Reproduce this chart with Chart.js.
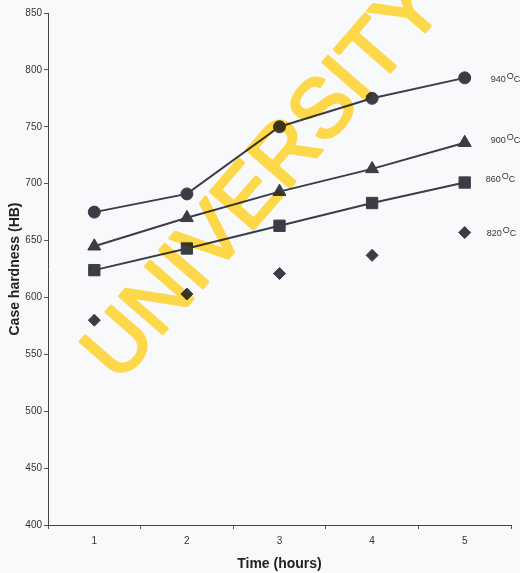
<!DOCTYPE html>
<html>
<head>
<meta charset="utf-8">
<script src="https://cdn.jsdelivr.net/npm/chart.js@4.4.0/dist/chart.umd.min.js"></script>
<style>
  html, body { margin: 0; padding: 0; background: #f8f9fb; }
  #wrap { width: 520px; height: 573px; }
</style>
</head>
<body>
<div id="wrap"><canvas id="c" width="520" height="573"></canvas></div>
<script>
const categories = ['1', '2', '3', '4', '5'];
const seriesNames = ['940', '900', '860', '820'];
const hardness940 = [675, 691, 750, 775, 793];
const hardness900 = [645, 670, 693, 713, 736];
const hardness860 = [624, 643, 663, 683, 701];
const hardness820 = [580, 603, 621, 637, 657];
const yMin = 400, yMax = 850, yStep = 50;
const xTitle = 'Time (hours)';
const yTitle = 'Case hardness (HB)';
const watermark = 'UNIVERSITY';

const ink = '#3b3c46';

const seriesLabelPlugin = {
  id: 'seriesLabels',
  afterDatasetsDraw(chart) {
    const ctx = chart.ctx;
    ctx.save();
    ctx.fillStyle = '#333';
    ctx.textBaseline = 'middle';
    ctx.textAlign = 'left';
    const offsets = [{dx: 26, dy: 2}, {dx: 26, dy: -2}, {dx: 21, dy: -3}, {dx: 22, dy: 1}];
    chart.data.datasets.forEach((ds, i) => {
      const meta = chart.getDatasetMeta(i);
      const pt = meta.data[meta.data.length - 1];
      let x = pt.x + offsets[i].dx, y = pt.y + offsets[i].dy;
      ctx.font = '9px "Liberation Sans", Arial, sans-serif';
      ctx.fillText(seriesNames[i], x, y);
      x += ctx.measureText(seriesNames[i]).width + 1;
      ctx.fillText('O', x, y - 3);
      x += ctx.measureText('O').width;
      ctx.fillText('C', x, y);
    });
    ctx.restore();
  }
};

const watermarkPlugin = {
  id: 'watermark',
  afterDraw(chart) {
    const ctx = chart.ctx;
    const off = document.createElement('canvas');
    off.width = chart.width;
    off.height = chart.height;
    const o = off.getContext('2d');
    o.fillStyle = 'rgb(252,216,74)';
    o.strokeStyle = 'rgb(252,216,74)';
    o.lineWidth = 3;
    o.lineJoin = 'round';
    o.font = '83px "Liberation Sans", Arial, sans-serif';
    o.textAlign = 'left';
    o.textBaseline = 'alphabetic';
    o.translate(119, 384);
    o.rotate(-49 * Math.PI / 180);
    o.fillText(watermark, 0, 0);
    o.strokeText(watermark, 0, 0);
    ctx.save();
    ctx.setTransform(1, 0, 0, 1, 0, 0);
    ctx.globalCompositeOperation = 'multiply';
    ctx.drawImage(off, 0, 0);
    ctx.restore();
  }
};

const common = {
  borderColor: ink,
  backgroundColor: ink,
  pointBackgroundColor: ink,
  pointBorderColor: ink,
  borderWidth: 2,
  pointBorderWidth: 1,
  tension: 0
};

new Chart(document.getElementById('c'), {
  type: 'line',
  data: {
    labels: categories,
    datasets: [
      Object.assign({label: seriesNames[0], data: hardness940, pointStyle: 'circle', pointRadius: 6}, common),
      Object.assign({label: seriesNames[1], data: hardness900, pointStyle: 'triangle', pointRadius: 7.5}, common),
      Object.assign({label: seriesNames[2], data: hardness860, pointStyle: 'rect', pointRadius: 8}, common),
      Object.assign({label: seriesNames[3], data: hardness820, pointStyle: 'rectRot', pointRadius: 6, showLine: false}, common)
    ]
  },
  options: {
    responsive: false,
    animation: false,
    layout: { padding: { left: 7, right: 8, top: 13, bottom: 0 } },
    plugins: { legend: { display: false }, tooltip: { enabled: false } },
    scales: {
      x: {
        type: 'category',
        offset: true,
        grid: { offset: true, drawOnChartArea: false, drawTicks: true, tickLength: 4, color: '#555' },
        border: { color: '#444', width: 1 },
        ticks: { color: '#333', font: { size: 10, family: '"Liberation Sans", Arial, sans-serif' }, padding: 6, maxRotation: 0 },
        title: { display: true, text: xTitle, color: '#222', font: { size: 14, weight: 'bold', family: '"Liberation Sans", Arial, sans-serif' }, padding: { top: 4, bottom: 0 } },
        afterFit(scale) { scale.height = 48; }
      },
      y: {
        min: yMin, max: yMax,
        ticks: { stepSize: yStep, color: '#333', font: { size: 10, family: '"Liberation Sans", Arial, sans-serif' }, padding: 2 },
        grid: { drawOnChartArea: false, drawTicks: true, tickLength: 4, color: '#555' },
        border: { color: '#444', width: 1 },
        title: { display: true, text: yTitle, color: '#222', font: { size: 14, weight: 'bold', family: '"Liberation Sans", Arial, sans-serif' }, padding: { top: 0, bottom: 4 } },
        afterFit(scale) { scale.width = 41; }
      }
    }
  },
  plugins: [seriesLabelPlugin, watermarkPlugin]
});
</script>
</body>
</html>
